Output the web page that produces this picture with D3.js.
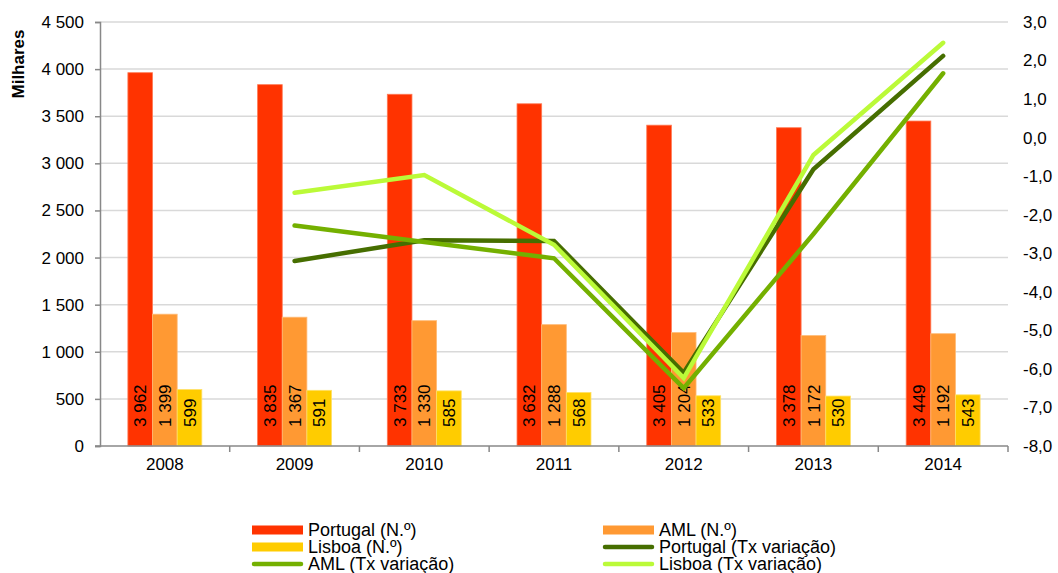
<!DOCTYPE html>
<html>
<head>
<meta charset="utf-8">
<script src="https://cdn.jsdelivr.net/npm/d3@7"></script>
<style>
  body { margin: 0; background: #fff; }
  svg { display: block; font-family: "Liberation Sans", Arial, sans-serif; }
</style>
</head>
<body>
<div id="chart"></div>
<script>
// data
var years = ["2008", "2009", "2010", "2011", "2012", "2013", "2014"];
var portugalN = [3962, 3835, 3733, 3632, 3405, 3378, 3449];
var amlN = [1399, 1367, 1330, 1288, 1204, 1172, 1192];
var lisboaN = [599, 591, 585, 568, 533, 530, 543];
// Tx variacao (no 2008 value)
var portugalTx = [null, -3.2, -2.66, -2.68, -6.1, -0.82, 2.12];
var amlTx = [null, -2.28, -2.71, -3.13, -6.5, -2.5, 1.67];
var lisboaTx = [null, -1.43, -0.97, -2.78, -6.24, -0.45, 2.46];
var leftTicks = [0, 500, 1000, 1500, 2000, 2500, 3000, 3500, 4000, 4500];
var rightTicks = [-8, -7, -6, -5, -4, -3, -2, -1, 0, 1, 2, 3];

var W = 1058, H = 573;
var m = {left: 100, right: 1008, top: 22, bottom: 446};

var loc = d3.formatLocale({decimal: ",", thousands: " ", grouping: [3], currency: ["", ""], minus: "-"});
var fmtN = loc.format(",d");
var fmtTx = loc.format(".1f");

var svg = d3.select("#chart").append("svg")
  .attr("width", W).attr("height", H);

var x = d3.scaleBand().domain(years).range([m.left, m.right]);
var yL = d3.scaleLinear().domain([0, 4500]).range([m.bottom, m.top]);
var yR = d3.scaleLinear().domain([-8, 3]).range([m.bottom, m.top]);

var barW = x.bandwidth() * 0.19;
var series = [
  {name: "Portugal (N.º)", vals: portugalN, color: "#ff3300", edge: "#ff7a55"},
  {name: "AML (N.º)", vals: amlN, color: "#ff9933", edge: "#ffbb77"},
  {name: "Lisboa (N.º)", vals: lisboaN, color: "#ffcc00", edge: "#ffe066"}
];
var lines = [
  {name: "Portugal (Tx variação)", vals: portugalTx, color: "#466e00"},
  {name: "AML (Tx variação)", vals: amlTx, color: "#74b000"},
  {name: "Lisboa (Tx variação)", vals: lisboaTx, color: "#bbfa38"}
];

// gridlines
svg.append("g").selectAll("line")
  .data(leftTicks.filter(function(d){ return d > 0; }))
  .enter().append("line")
  .attr("x1", m.left).attr("x2", m.right)
  .attr("y1", function(d){ return yL(d); })
  .attr("y2", function(d){ return yL(d); })
  .style("stroke", "#d9d9d9").style("stroke-width", 1.5);

// bars
series.forEach(function(s, si) {
  var g = svg.append("g");
  g.selectAll("rect")
    .data(s.vals)
    .enter().append("rect")
    .attr("x", function(d, i){ return x(years[i]) + x.bandwidth()/2 - 1.5*barW + si*barW; })
    .attr("y", function(d){ return yL(d); })
    .attr("width", barW)
    .attr("height", function(d){ return yL(0) - yL(d); })
    .style("fill", s.color)
    .style("stroke", s.edge).style("stroke-width", 0.8);
  g.selectAll("text")
    .data(s.vals)
    .enter().append("text")
    .attr("transform", function(d, i){
      var cx = x(years[i]) + x.bandwidth()/2 - 1.5*barW + si*barW + barW/2;
      return "translate(" + cx + "," + (m.bottom - 19) + ") rotate(-90)";
    })
    .attr("dy", "0.36em")
    .style("font-size", "17px")
    .style("fill", "#000")
    .text(function(d){ return fmtN(d); });
});

// axes
var axL = svg.append("g").attr("transform", "translate(" + m.left + ",0)")
  .call(d3.axisLeft(yL).tickValues(leftTicks).tickFormat(fmtN).tickSize(5).tickPadding(11));
axL.select(".domain").style("stroke", "#888").style("stroke-width", 1.5);
axL.selectAll(".tick line").style("stroke", "#888").style("stroke-width", 1.5);
axL.selectAll("text").style("font-size", "17px").style("fill", "#000").attr("font-family", null);

var axR = svg.append("g").attr("transform", "translate(" + m.right + ",0)")
  .call(d3.axisRight(yR).tickValues(rightTicks).tickFormat(fmtTx).tickSize(0).tickPadding(15));
axR.select(".domain").remove();
axR.selectAll("text").style("font-size", "17px").style("fill", "#000").attr("font-family", null);

var axB = svg.append("g").attr("transform", "translate(0," + m.bottom + ")");
axB.append("line").attr("x1", m.left - 5).attr("x2", m.right)
  .style("stroke", "#888").style("stroke-width", 1.5);
axB.selectAll("line.tk")
  .data(years.slice(1).concat(["end"]))
  .enter().append("line").attr("class", "tk")
  .attr("x1", function(d){ return d == "end" ? m.right : x(d); })
  .attr("x2", function(d){ return d == "end" ? m.right : x(d); })
  .attr("y1", 0).attr("y2", 6)
  .style("stroke", "#888").style("stroke-width", 1.5);
axB.selectAll("text")
  .data(years)
  .enter().append("text")
  .attr("x", function(d){ return x(d) + x.bandwidth()/2; })
  .attr("y", 24)
  .attr("text-anchor", "middle")
  .style("font-size", "17px")
  .text(function(d){ return d; });

// y axis title
svg.append("text")
  .attr("transform", "translate(24,64) rotate(-90)")
  .attr("text-anchor", "middle")
  .style("font-size", "17px").style("font-weight", "bold")
  .text("Milhares");

// lines
var lineGen = d3.line()
  .defined(function(d){ return d != null; })
  .x(function(d, i){ return x(years[i]) + x.bandwidth()/2; })
  .y(function(d){ return yR(d); });
lines.forEach(function(l) {
  svg.append("path")
    .datum(l.vals)
    .attr("d", lineGen)
    .style("fill", "none")
    .style("stroke", l.color)
    .style("stroke-width", 4.5)
    .style("stroke-linecap", "round");
});

// legend
var legendItems = [
  {s: series[0], type: "bar", col: 0, row: 0},
  {s: series[1], type: "bar", col: 1, row: 0},
  {s: series[2], type: "bar", col: 0, row: 1},
  {s: lines[0], type: "line", col: 1, row: 1},
  {s: lines[1], type: "line", col: 0, row: 2},
  {s: lines[2], type: "line", col: 1, row: 2}
];
var colX = [252, 603], rowY = [530, 547, 564];
var leg = svg.append("g");
legendItems.forEach(function(it) {
  var lx = colX[it.col], ly = rowY[it.row];
  if (it.type == "bar") {
    leg.append("rect").attr("x", lx).attr("y", ly - 4.5).attr("width", 51).attr("height", 9)
      .style("fill", it.s.color);
  } else {
    leg.append("line").attr("x1", lx + 2).attr("x2", lx + 49).attr("y1", ly).attr("y2", ly)
      .style("stroke", it.s.color).style("stroke-width", 4.5).style("stroke-linecap", "round");
  }
  leg.append("text").attr("x", lx + 56).attr("y", ly).attr("dy", "0.35em")
    .style("font-size", "18px")
    .text(it.s.name);
});
</script>
</body>
</html>
